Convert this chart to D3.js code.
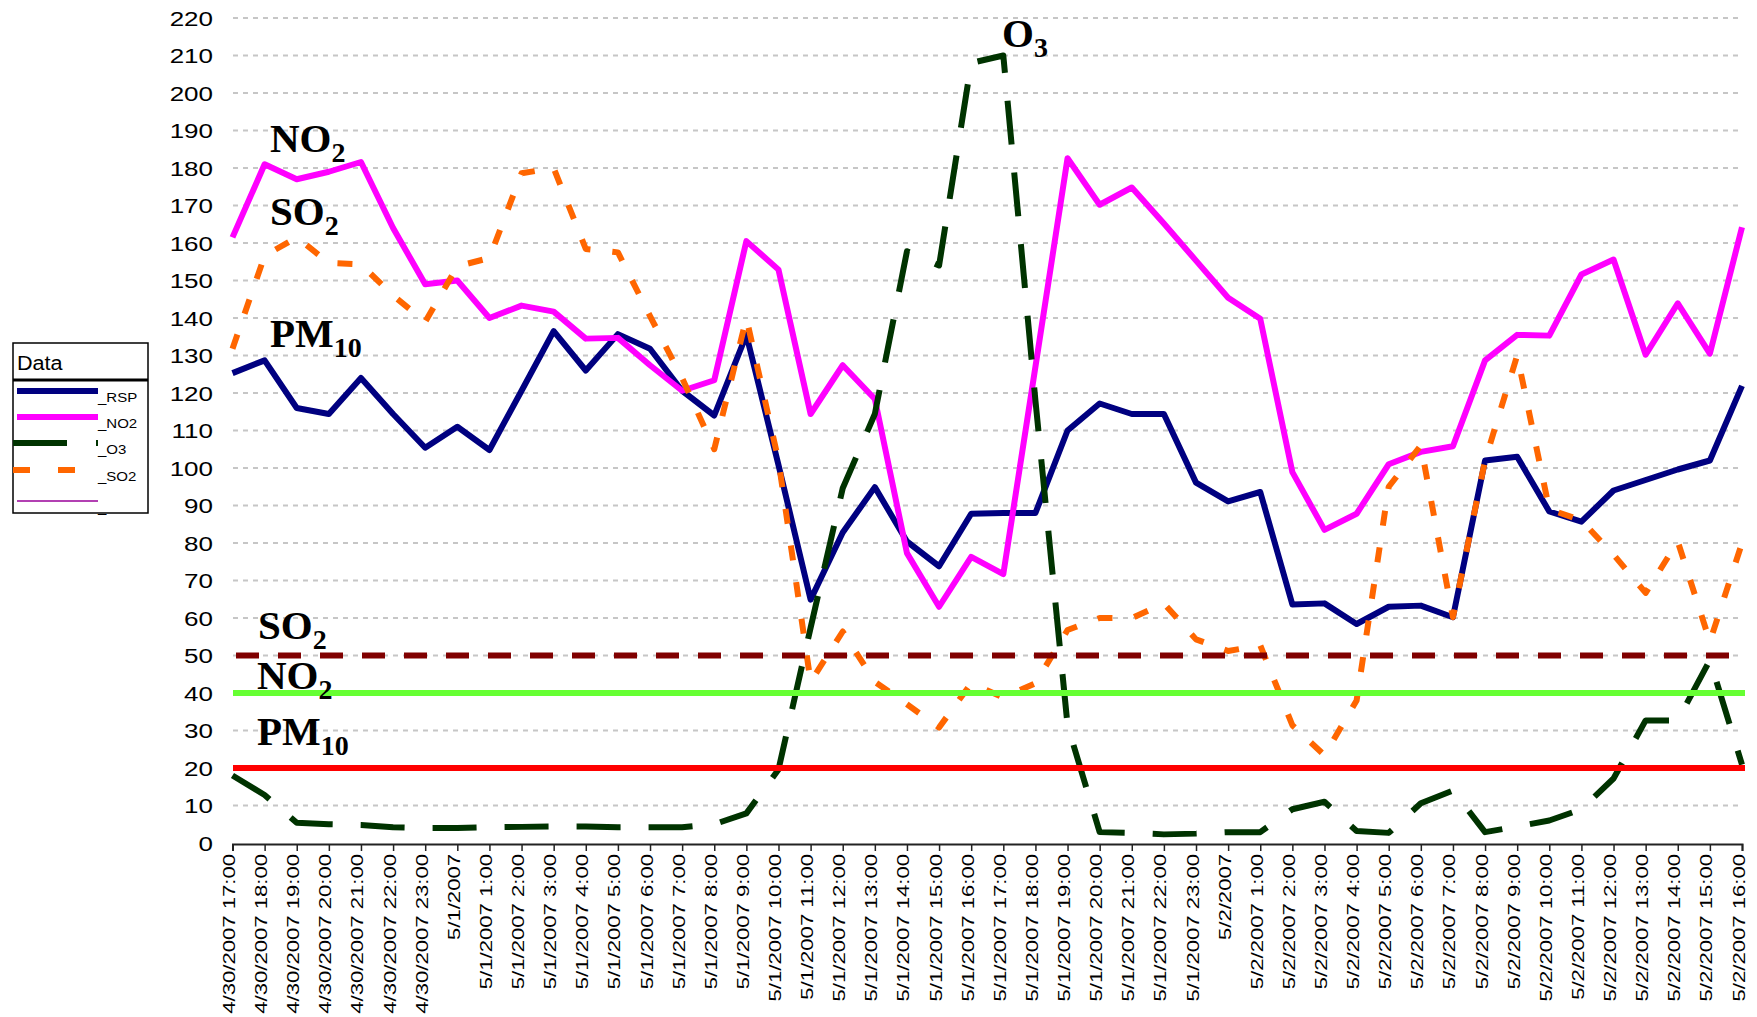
<!doctype html>
<html lang="en">
  <head>
    <meta charset="UTF-8" />
    <title>Air quality, 30 April - 2 May 2007</title>
    <script src="https://d3js.org/d3.v7.min.js"></script>
    <style>
      html, body { margin: 0; padding: 0; background: #fff; overflow: hidden; }
      svg { display: block; }
      .sans { font-family: "Liberation Sans", Arial, sans-serif; fill: #000; }
      .note { font-family: "Liberation Serif", "Times New Roman", serif; font-weight: bold; fill: #000; }
    </style>
  </head>
  <body>
    <svg id="chart" width="1757" height="1017"></svg>
    <script>
      // category labels (hourly readings)
      const timeLabels = [
        "4/30/2007 17:00", "4/30/2007 18:00", "4/30/2007 19:00", "4/30/2007 20:00",
        "4/30/2007 21:00", "4/30/2007 22:00", "4/30/2007 23:00",
        "5/1/2007", "5/1/2007 1:00", "5/1/2007 2:00", "5/1/2007 3:00", "5/1/2007 4:00",
        "5/1/2007 5:00", "5/1/2007 6:00", "5/1/2007 7:00", "5/1/2007 8:00", "5/1/2007 9:00",
        "5/1/2007 10:00", "5/1/2007 11:00", "5/1/2007 12:00", "5/1/2007 13:00", "5/1/2007 14:00",
        "5/1/2007 15:00", "5/1/2007 16:00", "5/1/2007 17:00", "5/1/2007 18:00", "5/1/2007 19:00",
        "5/1/2007 20:00", "5/1/2007 21:00", "5/1/2007 22:00", "5/1/2007 23:00",
        "5/2/2007", "5/2/2007 1:00", "5/2/2007 2:00", "5/2/2007 3:00", "5/2/2007 4:00",
        "5/2/2007 5:00", "5/2/2007 6:00", "5/2/2007 7:00", "5/2/2007 8:00", "5/2/2007 9:00",
        "5/2/2007 10:00", "5/2/2007 11:00", "5/2/2007 12:00", "5/2/2007 13:00", "5/2/2007 14:00",
        "5/2/2007 15:00", "5/2/2007 16:00"
      ];

      // series values
      const rsp = [125.3, 128.7, 116, 114.4, 124, 114.4, 105.4, 111, 104.8, 120.6,
        136.5, 126, 135.7, 131.8, 120.6, 114, 135.5, 100.8, 64.9, 82.8,
        94.9, 80.4, 73.8, 87.8, 88, 88, 110, 117.2, 114.4, 114.4,
        96.1, 91.1, 93.6, 63.6, 63.9, 58.4, 63, 63.3, 60.2, 102,
        103, 88.4, 85.7, 94, 96.8, 99.6, 102, 121.9];
      const no2 = [161.5, 181, 177, 179, 181.6, 164, 149, 150, 140, 143.3,
        141.7, 134.5, 134.7, 127.4, 120.6, 123.4, 160.5, 152.9, 114.4, 127.4,
        118.4, 77.3, 63, 76.3, 71.7, 127, 182.6, 170.2, 174.8, 165.2,
        155.3, 145.4, 139.8, 98.9, 83.5, 87.8, 101, 104.3, 105.8, 128.7,
        135.5, 135.3, 151.6, 155.6, 130.2, 143.9, 130.5, 164.2];
      const o3 = [18, 12.8, 5.4, 5, 4.8, 4.2, 4, 4, 4.2, 4.3,
        4.4, 4.4, 4.2, 4.2, 4.2, 5, 7.9, 19.6, 57.4, 94.6,
        114.4, 157.8, 154, 208, 210, 118, 31.4, 2.9, 2.7, 2.3,
        2.5, 2.9, 2.9, 9, 11, 3.2, 2.7, 10.6, 14, 2.9,
        4.4, 6, 9, 17.2, 32.7, 32.7, 48.8, 20.9];
      const so2 = [131.8, 156.6, 161.5, 154.7, 154.3, 146, 139, 153.8, 156, 178.6,
        180, 158.4, 157.5, 140.5, 124, 105, 140, 102, 43, 56.4,
        43, 37, 30.8, 42.6, 38.8, 42.6, 56.8, 60, 60, 63.9,
        54.3, 51.2, 52.7, 31.4, 23.4, 38, 95, 106, 60.2, 102,
        130, 89, 86, 76.9, 66.7, 80.4, 53.7, 80];

      // guideline limits: SO2, NO2, PM10
      const limitNames = ["SO2", "NO2", "PM10"];
      const limitValues = [50, 40, 20];

      const yTicks = d3.range(0, 221, 10);

      const svg = d3.select("#chart");
      const x = d3.scalePoint().domain(d3.range(timeLabels.length)).range([232.5, 1742]);
      const y = d3.scaleLinear().domain([0, 220]).range([843, 18]);

      // stretch text horizontally like the blown-up screen font
      function stretch(sel, k) {
        sel.each(function () {
          const w = this.getComputedTextLength();
          d3.select(this).attr("textLength", w * k).attr("lengthAdjust", "spacingAndGlyphs");
        });
      }

      // gridlines
      svg.append("g")
        .selectAll("line")
        .data(yTicks.filter((d) => d > 0))
        .join("line")
        .attr("x1", 233)
        .attr("x2", 1740)
        .attr("y1", (d) => y(d))
        .attr("y2", (d) => y(d))
        .attr("stroke", "#c6c6c6")
        .attr("stroke-width", 2)
        .attr("stroke-dasharray", "5,5");

      // y axis labels
      const yAxis = svg.append("g")
        .attr("transform", "translate(213,0)")
        .call(d3.axisLeft(y).tickValues(yTicks).tickSize(0).tickPadding(0));
      yAxis.select(".domain").remove();
      yAxis.selectAll("text")
        .attr("class", "sans")
        .attr("font-size", 20)
        .attr("fill", "#000")
        .attr("dy", "0.36em")
        .call(stretch, 1.3);

      // x axis
      const xAxis = svg.append("g")
        .attr("transform", `translate(0,${y(0) + 1})`)
        .call(d3.axisBottom(x).tickSize(7).tickSizeOuter(7).tickFormat((i) => timeLabels[i]));
      xAxis.select(".domain").attr("stroke", "#222").attr("stroke-width", 2);
      xAxis.selectAll(".tick line").attr("stroke", "#222").attr("stroke-width", 1.5);
      xAxis.selectAll("text")
        .attr("class", "sans")
        .attr("font-size", 17)
        .attr("fill", "#000")
        .attr("transform", "rotate(-90)")
        .attr("text-anchor", "end")
        .attr("x", -10)
        .attr("y", 2)
        .attr("dy", 0)
        .call(stretch, 1.3);

      // series
      const line = d3.line().x((d, i) => x(i)).y((d) => y(d));
      const series = [
        { values: rsp, color: "#000080", dash: null },
        { values: no2, color: "#ff00ff", dash: null },
        { values: o3, color: "#003300", dash: "44,28" },
        { values: so2, color: "#ff6600", dash: "15,22" }
      ];
      svg.append("g")
        .selectAll("path")
        .data(series)
        .join("path")
        .attr("d", (d) => line(d.values))
        .attr("fill", "none")
        .attr("stroke", (d) => d.color)
        .attr("stroke-width", 6)
        .attr("stroke-linejoin", "round")
        .attr("stroke-dasharray", (d) => d.dash);

      // limit lines
      const limitStyle = [
        { color: "#800000", dash: "23,19" },
        { color: "#66ff33", dash: null },
        { color: "#ff0000", dash: null }
      ];
      svg.append("g")
        .selectAll("line")
        .data(limitValues)
        .join("line")
        .attr("x1", (d, i) => (i === 0 ? 236 : 233))
        .attr("x2", 1745)
        .attr("y1", (d) => y(d))
        .attr("y2", (d) => y(d))
        .attr("stroke", (d, i) => limitStyle[i].color)
        .attr("stroke-width", 6)
        .attr("stroke-dasharray", (d, i) => limitStyle[i].dash);

      // chemical formula labels
      function formula(px, py, main, sub) {
        const t = svg.append("text").attr("class", "note").attr("x", px).attr("y", py).attr("font-size", 41);
        t.append("tspan").text(main);
        t.append("tspan").attr("font-size", 28).attr("dy", 10).text(sub);
      }
      formula(270, 152, "NO", "2");
      formula(270, 225, "SO", "2");
      formula(270, 347, "PM", "10");
      formula(1002, 47, "O", "3");
      // limit labels sit just above their lines
      formula(258, y(limitValues[0]) - 17, "SO", "2");
      formula(257, y(limitValues[1]) - 4, "NO", "2");
      formula(257, y(limitValues[2]) - 23, "PM", "10");

      // legend
      const legendKeys = [
        { label: "_RSP", color: "#000080", width: 6, dash: null },
        { label: "_NO2", color: "#ff00ff", width: 6, dash: null },
        { label: "_O3", color: "#003300", width: 6, dash: "54,29" },
        { label: "_SO2", color: "#ff6600", width: 6, dash: "17,28" },
        { label: "_", color: "#990099", width: 1.5, dash: null }
      ];
      const legend = svg.append("g");
      legend.append("rect")
        .attr("x", 13).attr("y", 343).attr("width", 135).attr("height", 170)
        .attr("fill", "#fff").attr("stroke", "#000").attr("stroke-width", 1.5);
      legend.append("line")
        .attr("x1", 13).attr("x2", 148).attr("y1", 380).attr("y2", 380)
        .attr("stroke", "#000").attr("stroke-width", 3);
      legend.append("text")
        .attr("class", "sans").attr("x", 17).attr("y", 370).attr("font-size", 20)
        .text("Data").call(stretch, 1.08);
      const rowY = [391, 417, 443, 470, 501];
      const rows = legend.selectAll("g.row").data(legendKeys).join("g").attr("class", "row")
        .attr("transform", (d, i) => `translate(0,${rowY[i]})`);
      rows.append("line")
        .attr("x1", (d) => (d.dash ? 13 : 17))
        .attr("x2", 98)
        .attr("stroke", (d) => d.color)
        .attr("stroke-width", (d) => d.width)
        .attr("stroke-dasharray", (d) => d.dash);
      rows.append("text")
        .attr("class", "sans")
        .attr("x", 98)
        .attr("y", 11)
        .attr("font-size", 12)
        .text((d) => d.label)
        .call(stretch, 1.25);
    </script>
  </body>
</html>
